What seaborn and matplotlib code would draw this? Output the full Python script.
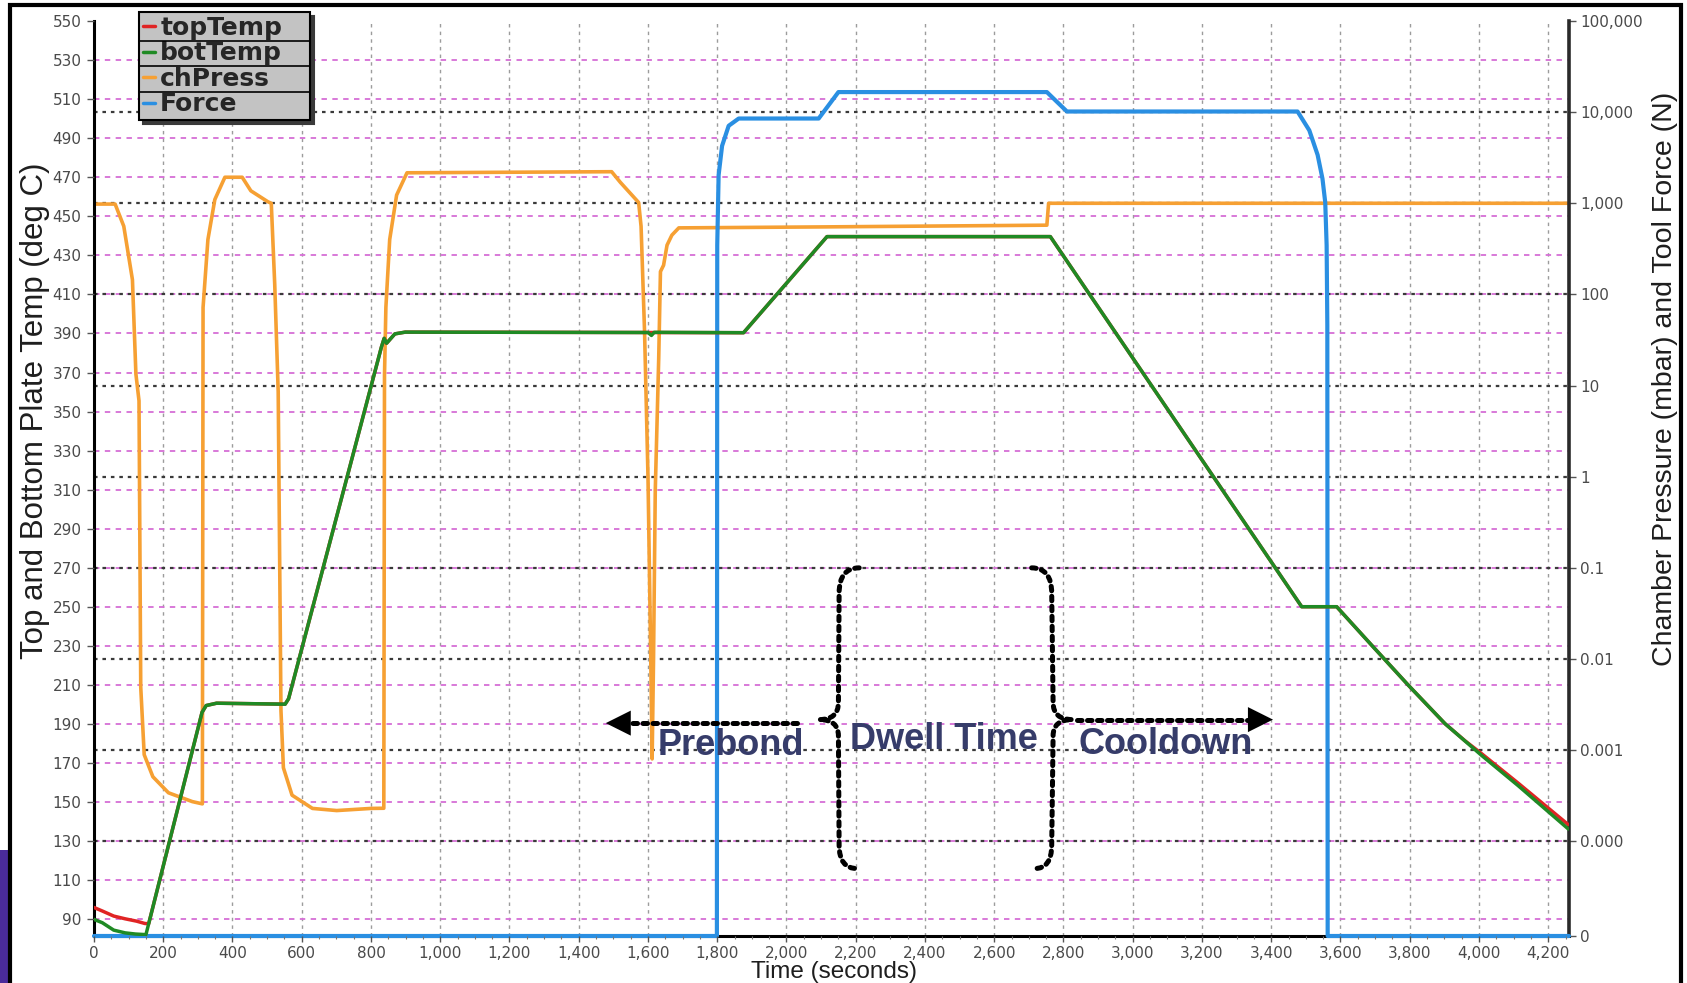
import numpy as np
import pandas as pd
import seaborn as sns
import matplotlib
matplotlib.use("Agg")
import matplotlib.pyplot as plt
import matplotlib.transforms as mtransforms
from matplotlib.path import Path
from matplotlib.patches import PathPatch, Rectangle
from matplotlib.lines import Line2D
from matplotlib.ticker import FixedLocator, FixedFormatter, MultipleLocator, FuncFormatter, NullLocator

# ---------------- process log data ----------------
top_t = [0, 24, 57, 90, 123, 147, 158, 312, 324, 354, 552, 562, 830, 838, 845, 869, 899,
         1600, 1876, 2117, 2762, 3488, 3589, 3690, 3796, 3902, 3960, 4008, 4113, 4258]
top_temp = [96.1, 94.3, 91.7, 90.3, 89.1, 87.9, 87.8, 196.0, 199.5, 200.7, 200.2, 203.0, 383.0, 387.5,
            385.0, 389.8, 390.7, 390.5, 390.4, 439.6, 439.6, 250.1, 250.1, 230.4, 209.9, 190.2, 181.4,
            174.8, 159.8, 138.5]

bot_t = [0, 24, 57, 90, 120, 150, 312, 324, 354, 552, 562, 830, 838, 845, 869, 899, 1600, 1610,
         1618, 1876, 2117, 2762, 3488, 3589, 3690, 3796, 3902, 4008, 4113, 4258]
bot_temp = [90.0, 88.3, 84.5, 83.1, 82.5, 82.2, 196.0, 199.5, 200.7, 200.2, 203.0, 383.0, 387.5, 385.0,
            389.8, 390.7, 390.5, 389.0, 390.6, 390.4, 439.6, 439.6, 250.1, 250.1, 230.4, 209.9, 190.2,
            173.9, 158.5, 136.3]

press_t = [0, 61, 86, 111, 121, 130, 135, 145, 170, 215, 284, 313, 315, 329, 349, 378, 428, 453, 502,
           512, 522, 532, 540, 547, 572, 631, 701, 800, 837, 839, 843, 854, 874, 904, 1495, 1520, 1573,
           1580, 1590, 1600, 1608, 1612, 1616, 1621, 1631, 1636, 1645, 1655, 1669, 1689, 2093, 2752,
           2757, 4260]
press_mbar = [980, 980, 560, 145, 13.4, 6.8, 0.0049, 0.00089, 0.00051, 0.00034, 0.000272, 0.000257,
              72, 400, 1100, 1930, 1930, 1370, 1040, 1000, 128, 8.5, 0.0027, 0.00064, 0.00032,
              0.000229, 0.000217, 0.000229, 0.00023, 13, 72, 400, 1230, 2160, 2220, 1700, 1020,
              560, 40, 1.0, 0.01, 0.0008, 0.01, 0.7, 20, 178, 209, 347, 447, 537, 550, 575,
              1000, 1000]

force_t = [0, 1799, 1800, 1804, 1814, 1833, 1862, 2093, 2150, 2752, 2810, 3476, 3510, 3534, 3548,
           3556, 3560, 3562, 3563, 4260]
force_n = [0, 0, 346, 2040, 4270, 7080, 8510, 8510, 16600, 16600, 10160, 10160, 6310, 3390, 1860,
           1020, 347, 46, 0, 0]

series_names = ["topTemp", "botTemp", "chPress", "Force"]
series_colors = ["#e02424", "#1f8a24", "#f6a033", "#2a8fe2"]

# ---------------- axis ticks ----------------
x_ticks = list(range(0, 4201, 200))
temp_ticks = list(range(90, 551, 20))
log_ticks = [1e5, 1e4, 1e3, 1e2, 1e1, 1, 0.1, 0.01, 0.001, 0.0001]
log_tick_labels = ["100,000", "10,000", "1,000", "100", "10", "1", "0.1", "0.01", "0.001", "0.000"]
zero_label = "0"

X_MAX = 4260
T_MIN, T_MAX = 81.5, 550
LOG_FLOOR = 10 ** -5.04   # bottom of the log axis, shown as "0"

# ---------------- style ----------------
sns.set_style("white")
plt.rcParams["font.family"] = ["Liberation Sans", "DejaVu Sans"]

fig = plt.figure(figsize=(16.87, 9.83), dpi=100)
fig.patch.set_facecolor("white")

L, B, W, H = 94 / 1687, 47 / 983, 1475 / 1687, 915 / 983
ax = fig.add_axes([L, B, W, H])
ax2 = ax.twinx()
ax.set_zorder(ax2.get_zorder() + 1)
ax.patch.set_visible(False)
ax2.patch.set_visible(True)
ax2.patch.set_facecolor("white")

ax.set_xlim(0, X_MAX)
ax.set_ylim(T_MIN, T_MAX)
ax2.set_yscale("log")
ax2.set_ylim(LOG_FLOOR, 1e5)

# ---------------- grid (bottom layer) ----------------
for t in x_ticks[1:]:
    ax2.axvline(t, color="#9c9c9c", lw=1.0, ls=(0, (2.5, 3)), zorder=0.5)
blend = mtransforms.blended_transform_factory(ax2.transAxes, ax.transData)
for T in temp_ticks[:-1]:
    ax2.add_artist(Line2D([0, 1], [T, T], transform=blend, color="#d66ed6", lw=1.3,
                          ls=(0, (3, 3)), zorder=0.6))
for v in log_ticks[1:]:
    ax2.axhline(v, color="#3a3a3a", lw=1.6, ls=(0, (1.6, 2.2)), zorder=0.7)

# ---------------- series ----------------
press_df = pd.DataFrame({"t": press_t, "v": press_mbar})
force_df = pd.DataFrame({"t": force_t, "v": np.clip(np.array(force_n, float), LOG_FLOOR, None)})
top_df = pd.DataFrame({"t": top_t, "v": top_temp})
bot_df = pd.DataFrame({"t": bot_t, "v": bot_temp})

sns.lineplot(data=press_df, x="t", y="v", ax=ax2, color=series_colors[2], lw=2.6,
             estimator=None, sort=False, zorder=2)
sns.lineplot(data=force_df, x="t", y="v", ax=ax2, color=series_colors[3], lw=3.0,
             estimator=None, sort=False, zorder=3, clip_on=False)
sns.lineplot(data=top_df, x="t", y="v", ax=ax, color=series_colors[0], lw=2.5,
             estimator=None, sort=False, zorder=2)
sns.lineplot(data=bot_df, x="t", y="v", ax=ax, color=series_colors[1], lw=2.5,
             estimator=None, sort=False, zorder=3)

ax.set_xlim(0, X_MAX)
ax.set_ylim(T_MIN, T_MAX)
ax2.set_ylim(LOG_FLOOR, 1e5)

# ---------------- spines & ticks ----------------
for s in ax.spines.values():
    s.set_visible(False)
ax2.spines["top"].set_visible(False)
ax2.spines["left"].set_color("black")
ax2.spines["left"].set_linewidth(2.2)
ax2.spines["right"].set_color("#2a2a2a")
ax2.spines["right"].set_linewidth(2.6)
ax2.spines["bottom"].set_color("black")
ax2.spines["bottom"].set_linewidth(2.2)

ax.xaxis.set_major_locator(FixedLocator(x_ticks))
ax.xaxis.set_major_formatter(FuncFormatter(lambda v, p: f"{int(round(v)):,}"))
ax.xaxis.set_minor_locator(MultipleLocator(50))
ax.yaxis.set_major_locator(FixedLocator(temp_ticks))
ax.yaxis.set_minor_locator(NullLocator())

ax2.yaxis.set_major_locator(FixedLocator(log_ticks + [LOG_FLOOR]))
ax2.yaxis.set_major_formatter(FixedFormatter(log_tick_labels + [zero_label]))
ax2.yaxis.set_minor_locator(NullLocator())

tick_color = "#4a4a4a"
ax.tick_params(axis="x", which="major", bottom=True, length=4, width=1, color="#555555",
               labelsize=11, labelcolor=tick_color, pad=3, direction="out")
ax.tick_params(axis="x", which="minor", bottom=True, length=2.5, width=0.8, color="#777777",
               direction="out")
ax.tick_params(axis="y", which="major", left=True, length=5, width=1, color="#555555",
               labelsize=11, labelcolor=tick_color, pad=4, direction="out")
ax2.tick_params(axis="y", which="major", right=True, length=5, width=1, color="#555555",
                labelsize=11, labelcolor=tick_color, pad=3, direction="out")
for lab in ax.get_xticklabels() + ax.get_yticklabels() + ax2.get_yticklabels():
    lab.set_family("DejaVu Sans")

ax.set_xlabel("Time (seconds)", fontsize=17.5, color="#1e1e1e")
ax.xaxis.label.set_va("center")
ax.xaxis.set_label_coords(0.502, -0.0395)

ax.set_ylabel("Top and Bottom Plate Temp (deg C)", fontsize=22.5, color="#1e1e1e")
ax.yaxis.label.set_va("center")
ax.yaxis.set_label_coords(-0.040, 0.574)
ax2.set_ylabel("Chamber Pressure (mbar) and Tool Force (N)", fontsize=20.5, color="#1e1e1e",
               rotation=90)
ax2.yaxis.label.set_va("center")
ax2.yaxis.set_label_coords(1.0654, 0.609)

# ---------------- legend ----------------
handles = [Line2D([], [], color=c, lw=2.5) for c in series_colors]
leg = ax.legend(handles, series_names, loc="upper left",
                bbox_to_anchor=(0.0305, 1.0098 - 0.1126, 0.116, 0.1126), mode="expand",
                frameon=True, fancybox=False, framealpha=1, facecolor="#c3c3c3",
                edgecolor="black", borderaxespad=0, borderpad=0.15, labelspacing=0.06,
                handlelength=0.5, handletextpad=0.2,
                shadow={"color": "#3a3a3a", "alpha": 1, "ox": 3, "oy": -3},
                prop={"family": "DejaVu Sans", "weight": "bold", "size": 18})
leg.get_frame().set_linewidth(1.5)
leg.set_zorder(20)

# ---------------- phase annotations ----------------
def brace(points_codes, **kw):
    verts = [p for p, _ in points_codes]
    codes = [c for _, c in points_codes]
    patch = PathPatch(Path(verts, codes), fill=False, transform=ax.transData, clip_on=False, **kw)
    ax.add_patch(patch)

brace_style = dict(edgecolor="black", lw=3.6, ls=(0, (0.9, 1.1)), capstyle="round", zorder=6)
M, C3, LT = Path.MOVETO, Path.CURVE3, Path.LINETO
brace([((2210, 270), M), ((2152, 270), C3), ((2152, 257), C3), ((2150, 201), LT),
       ((2150, 192.3), C3), ((2095, 192.3), C3), ((2150, 192.3), C3), ((2150, 184), C3),
       ((2152, 128), LT), ((2152, 116), C3), ((2205, 116), C3)], **brace_style)
brace([((2708, 270), M), ((2766, 270), C3), ((2766, 257), C3), ((2770, 201), LT),
       ((2770, 192.3), C3), ((2826, 192.3), C3), ((2770, 192.3), C3), ((2770, 184), C3),
       ((2766, 128), LT), ((2766, 116), C3), ((2716, 116), C3)], **brace_style)

arrow_ls = dict(color="black", lw=3.6, ls=(0, (0.9, 1.1)), dash_capstyle="round", zorder=6)
ax.plot([2030, 1510], [190.5, 190.5], **arrow_ls)
ax.plot([2840, 3370], [192.3, 192.3], **arrow_ls)
head = dict(arrowstyle="-|>,head_length=0.9,head_width=0.45", color="black", lw=0.01,
            mutation_scale=20, shrinkA=0, shrinkB=0)
ax.annotate("", xy=(1478, 190.5), xytext=(1540, 190.5), arrowprops=head, zorder=6)
ax.annotate("", xy=(3405, 192.3), xytext=(3340, 192.3), arrowprops=head, zorder=6)

phase_style = dict(ha="center", va="center", fontsize=26, fontweight="bold", color="#363c6a",
                   zorder=7)
ax.text(1840, 179.0, "Prebond", **phase_style)
ax.text(2455, 182.0, "Dwell Time", **phase_style)
ax.text(3095, 179.5, "Cooldown", **phase_style)

# ---------------- legend row dividers ----------------
fig.canvas.draw()
renderer = fig.canvas.get_renderer()
fb = leg.get_frame().get_window_extent(renderer)
tbs = [t.get_window_extent(renderer) for t in leg.get_texts()]
for a, b in zip(tbs[:-1], tbs[1:]):
    y = (a.y0 + b.y1) / 2
    fig.add_artist(Line2D([fb.x0, fb.x1], [y, y], transform=mtransforms.IdentityTransform(),
                          color="black", lw=1.2, zorder=30))

# ---------------- page frame ----------------
fig.add_artist(Rectangle((0, 0), 10 / 1687, 133 / 983, transform=fig.transFigure,
                         facecolor="#4a2b9b", edgecolor="none", zorder=25))
frame_x = [10 / 1687, 10 / 1687, 1681 / 1687, 1681 / 1687]
frame_y = [0, 978 / 983, 978 / 983, 0]
fig.add_artist(Line2D(frame_x, frame_y, transform=fig.transFigure, color="black", lw=3,
                      solid_joinstyle="miter", zorder=26))

fig.savefig("out.png", dpi=100)
